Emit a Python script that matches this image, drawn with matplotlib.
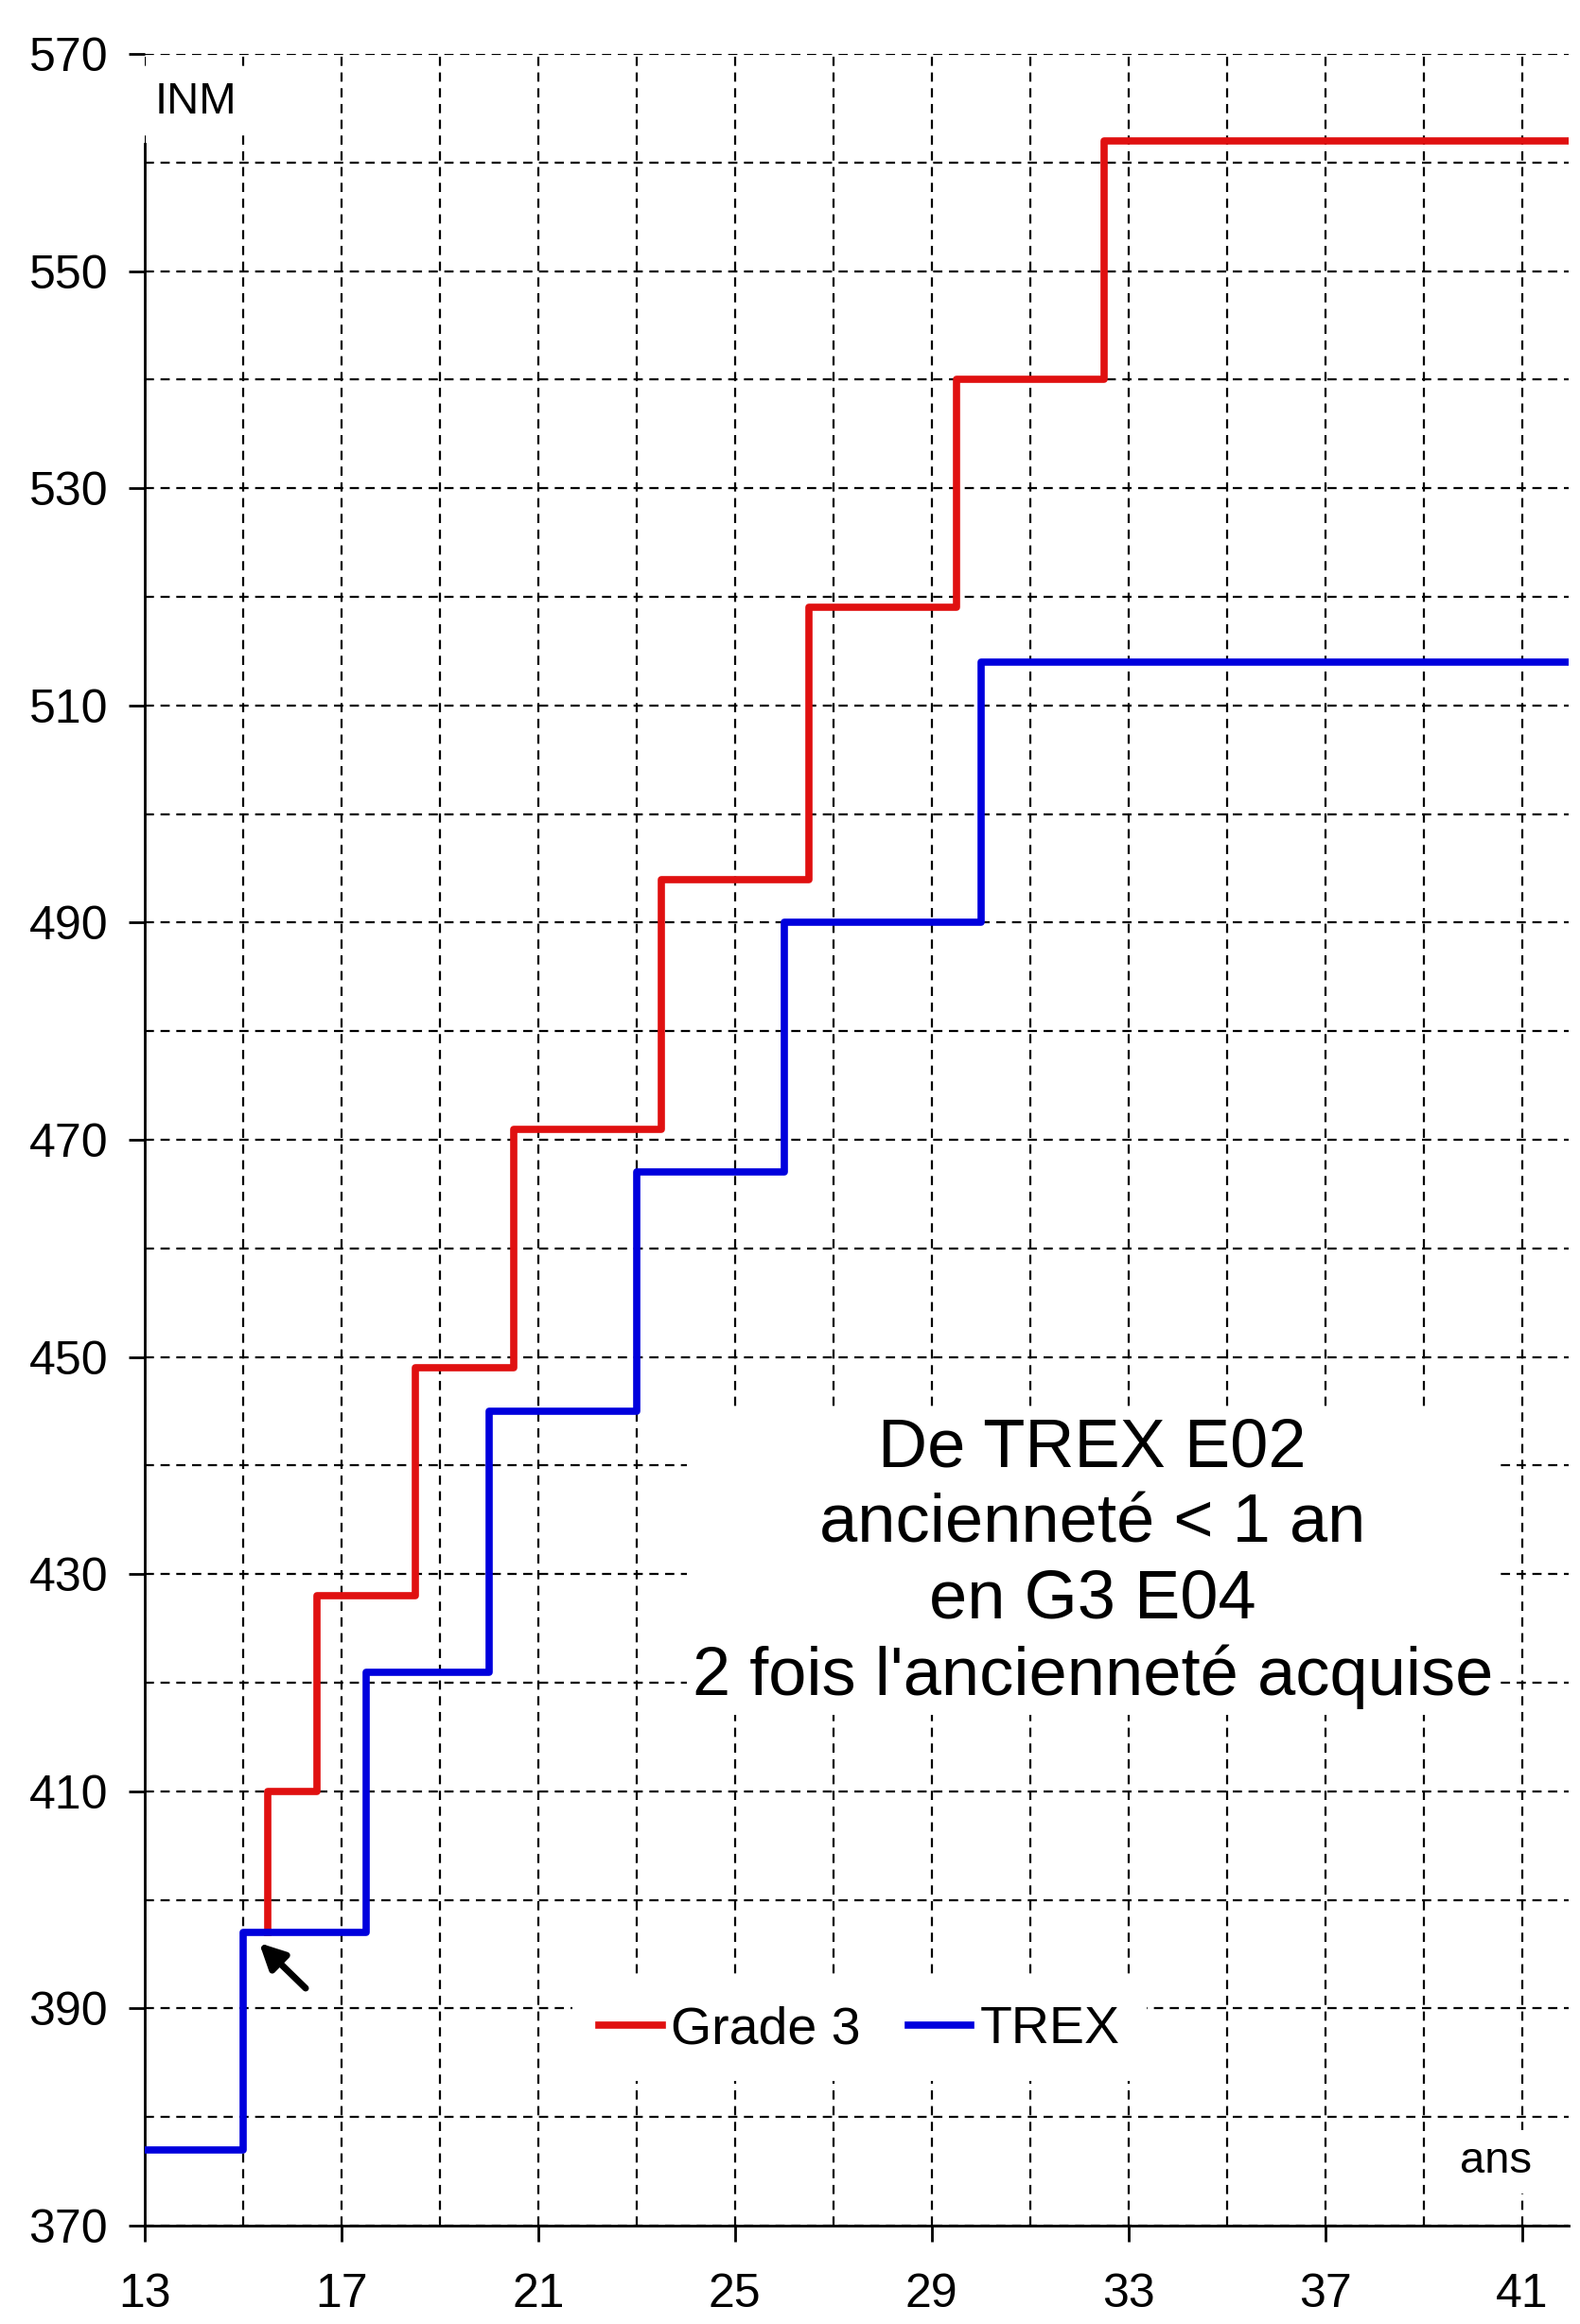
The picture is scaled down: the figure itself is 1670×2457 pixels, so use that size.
import matplotlib
matplotlib.use("Agg")
import matplotlib.pyplot as plt
from matplotlib.ticker import MultipleLocator

plt.rcParams['font.family'] = ['Liberation Sans', 'DejaVu Sans']
plt.rcParams['lines.scale_dashes'] = False

# step data: x = years of service, y = INM
grade3_x = [15.5, 15.5, 16.5, 18.5, 20.5, 23.5, 26.5, 29.5, 32.5, 42]
grade3_y = [397, 410, 428, 449, 471, 494, 519, 540, 562, 562]

trex_x = [13, 15, 17.5, 20, 23, 26, 30, 42]
trex_y = [377, 397, 421, 445, 467, 490, 514, 514]

x_ticks = [13, 17, 21, 25, 29, 33, 37, 41]
y_ticks = [370, 390, 410, 430, 450, 470, 490, 510, 530, 550, 570]

note = "De TREX E02\nancienneté < 1 an\nen G3 E04\n2 fois l'ancienneté acquise"

fig = plt.figure(figsize=(16.7, 24.57), dpi=100)
ax = fig.add_axes([0.0916, 0.0423, 0.9012, 0.9345])

ax.step(grade3_x, grade3_y, where='post', color='#e01010', lw=5.5,
        label='Grade 3', zorder=3)
ax.step(trex_x, trex_y, where='post', color='#0000dd', lw=5.5,
        label='TREX', zorder=4)

ax.set_xlim(13, 41.95)
ax.set_ylim(370, 570)

ax.set_xticks(x_ticks)
ax.set_yticks(y_ticks)
ax.xaxis.set_minor_locator(MultipleLocator(2, offset=1))
ax.yaxis.set_minor_locator(MultipleLocator(10))

ax.tick_params(which='major', direction='out', length=12, width=2,
               labelsize=36)
ax.tick_params(axis='x', which='major', pad=24)
ax.tick_params(axis='y', which='major', pad=16)
ax.tick_params(which='minor', length=0)

ax.set_axisbelow(True)
ax.grid(which='both', color='black', lw=1.6, dashes=(7, 5))

for s in ['top', 'right']:
    ax.spines[s].set_visible(False)
ax.spines['left'].set_bounds(370, 561.7)
ax.spines['left'].set_linewidth(2)
ax.spines['bottom'].set_linewidth(2)

ax.text(13.2, 565.6, 'INM', fontsize=34, ha='left', va='center',
        bbox=dict(facecolor='white', edgecolor='none', pad=8), zorder=5)
ax.text(40.48, 375.9, 'ans', fontsize=34, ha='center', va='center',
        bbox=dict(facecolor='white', edgecolor='none', pad=8), zorder=5)

ax.text(32.27, 431.0, note, fontsize=52, ha='center', va='center',
        linespacing=1.25,
        bbox=dict(facecolor='white', edgecolor='none', pad=4), zorder=5)

ax.annotate('', xy=(15.29, 396.2), xytext=(16.31, 391.7),
            arrowprops=dict(arrowstyle='-|>', color='black', lw=5,
                            mutation_scale=40, capstyle='round'), zorder=6)

leg = ax.legend(loc='center', bbox_to_anchor=(0.502, 0.09), ncol=2,
                fontsize=40, handlelength=1.2, handletextpad=0.17,
                columnspacing=0.9, frameon=True, fancybox=False,
                framealpha=1, borderpad=0.5)
leg.get_frame().set_facecolor('white')
leg.get_frame().set_edgecolor('none')

fig.savefig('out.png', dpi=100, facecolor='white')
